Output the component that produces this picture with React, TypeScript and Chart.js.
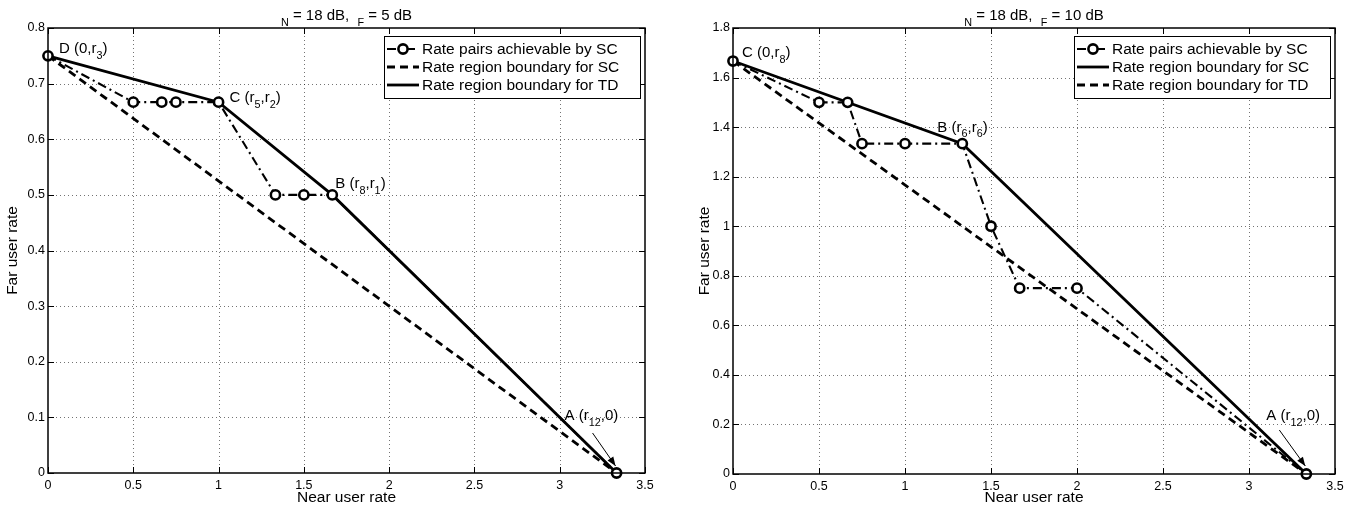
import React, { useEffect, useRef } from "react";
import { Chart, registerables } from "chart.js";
Chart.register(...registerables);

// ---------- DATA ----------
const xTicksMax = 3.5;
const xStep = 0.5;

// Left panel (γN = 18 dB, γF = 5 dB)
const leftAchX = [0, 0.5, 0.6667, 0.75, 1, 1.3333, 1.5, 1.6667, 3.3333];
const leftAchY = [0.75, 0.6667, 0.6667, 0.6667, 0.6667, 0.5, 0.5, 0.5, 0];
const leftSCBoundX = [0, 3.3333];
const leftSCBoundY = [0.75, 0];
const leftTDX = [0, 1, 1.6667, 3.3333];
const leftTDY = [0.75, 0.6667, 0.5, 0];
const leftYMax = 0.8;
const leftYStep = 0.1;

// Right panel (γN = 18 dB, γF = 10 dB)
const rightAchX = [0, 0.5, 0.6667, 0.75, 1, 1.3333, 1.5, 1.6667, 2, 3.3333];
const rightAchY = [1.6667, 1.5, 1.5, 1.3333, 1.3333, 1.3333, 1.0, 0.75, 0.75, 0];
const rightSCBoundX = [0, 1.3333, 3.3333];
const rightSCBoundY = [1.6667, 1.3333, 0];
const rightTDX = [0, 3.3333];
const rightTDY = [1.6667, 0];
const rightYMax = 1.8;
const rightYStep = 0.2;

const legendAch = "Rate pairs achievable by SC";
const legendSC = "Rate region boundary for SC";
const legendTD = "Rate region boundary for TD";
const xTitle = "Near user rate";
const yTitle = "Far user rate";

// ---------- STYLE ----------
const FONT = '"Liberation Sans", Arial, Helvetica, sans-serif';
const H = 511;
const TICK_FONT = 12.5;
const TITLE_FONT = 15;
const AXIS_FONT = 15.5;
const LEG_FONT = 15.5;
const ANN_FONT = 15;

type Seg = { t: string; sub?: boolean };
type Kind = "ach" | "dash" | "solid";

const styleFor = (kind: Kind) => {
  if (kind === "ach")
    return {
      borderColor: "#000",
      borderWidth: 2.1,
      borderDash: [9, 4, 2, 4],
      pointRadius: 4.6,
      pointBorderWidth: 2.6,
      pointBackgroundColor: "#fff",
      pointBorderColor: "#000",
    };
  if (kind === "dash")
    return { borderColor: "#000", borderWidth: 2.8, borderDash: [8, 5], pointRadius: 0 };
  return { borderColor: "#000", borderWidth: 2.8, borderDash: [], pointRadius: 0 };
};

const toPts = (xs: number[], ys: number[]) => xs.map((x, i) => ({ x, y: ys[i] }));

function drawRich(ctx: CanvasRenderingContext2D, segs: Seg[], x: number, y: number, size: number, align: "left" | "center") {
  const sub = size * 0.72;
  let w = 0;
  for (const s of segs) {
    ctx.font = `${s.sub ? sub : size}px ${FONT}`;
    w += ctx.measureText(s.t).width;
  }
  let cx = align === "center" ? x - w / 2 : x;
  ctx.textAlign = "left";
  ctx.textBaseline = "alphabetic";
  for (const s of segs) {
    ctx.font = `${s.sub ? sub : size}px ${FONT}`;
    ctx.fillText(s.t, cx, s.sub ? y + size * 0.38 : y);
    cx += ctx.measureText(s.t).width;
  }
}

function sample(ctx: CanvasRenderingContext2D, kind: Kind, x0: number, x1: number, y: number) {
  const st: any = styleFor(kind);
  ctx.save();
  ctx.strokeStyle = "#000";
  ctx.lineWidth = st.borderWidth;
  ctx.setLineDash(st.borderDash);
  ctx.beginPath();
  ctx.moveTo(x0, y);
  ctx.lineTo(x1, y);
  ctx.stroke();
  ctx.setLineDash([]);
  if (kind === "ach") {
    ctx.beginPath();
    ctx.arc((x0 + x1) / 2, y, st.pointRadius, 0, Math.PI * 2);
    ctx.fillStyle = "#fff";
    ctx.fill();
    ctx.lineWidth = st.pointBorderWidth;
    ctx.stroke();
  }
  ctx.restore();
}

type Ann = { x: number; y: number; dx: number; dy: number; segs: Seg[] };
type Arrow = { x: number; y: number; sx: number; sy: number; ex: number; ey: number };

type Spec = {
  width: number;
  area: { left: number; right: number; top: number; bottom: number };
  yMax: number;
  yStep: number;
  series: { kind: Kind; xs: number[]; ys: number[] }[];
  legend: { kind: Kind; label: string }[];
  title: Seg[];
  anns: Ann[];
  arrows: Arrow[];
  yTitleX: number;
};

function buildConfig(spec: Spec): any {
  const fmt = (v: any) => String(Math.round(Number(v) * 100) / 100);
  const decor = {
    id: "decor",
    beforeDatasetsDraw(chart: any) {
      const ctx = chart.ctx as CanvasRenderingContext2D;
      const a = chart.chartArea;
      const xs = chart.scales.x;
      const ys = chart.scales.y;
      ctx.save();
      ctx.strokeStyle = "rgba(0,0,0,0.55)";
      ctx.lineWidth = 1;
      ctx.setLineDash([1, 3]);
      for (const t of xs.ticks) {
        if (t.value <= xs.min || t.value >= xs.max) continue;
        const p = Math.round(xs.getPixelForValue(t.value)) + 0.5;
        ctx.beginPath();
        ctx.moveTo(p, a.top);
        ctx.lineTo(p, a.bottom);
        ctx.stroke();
      }
      for (const t of ys.ticks) {
        if (t.value <= ys.min || t.value >= ys.max) continue;
        const p = Math.round(ys.getPixelForValue(t.value)) + 0.5;
        ctx.beginPath();
        ctx.moveTo(a.left, p);
        ctx.lineTo(a.right, p);
        ctx.stroke();
      }
      ctx.restore();
    },
    afterDraw(chart: any) {
      const ctx = chart.ctx as CanvasRenderingContext2D;
      const a = chart.chartArea;
      const xs = chart.scales.x;
      const ys = chart.scales.y;
      ctx.save();
      // box
      ctx.strokeStyle = "#000";
      ctx.lineWidth = 1.5;
      ctx.setLineDash([]);
      ctx.strokeRect(a.left, a.top, a.right - a.left, a.bottom - a.top);
      // inward ticks
      ctx.lineWidth = 1;
      const TL = 6;
      ctx.beginPath();
      for (const t of xs.ticks) {
        const p = Math.round(xs.getPixelForValue(t.value)) + 0.5;
        ctx.moveTo(p, a.bottom);
        ctx.lineTo(p, a.bottom - TL);
        ctx.moveTo(p, a.top);
        ctx.lineTo(p, a.top + TL);
      }
      for (const t of ys.ticks) {
        const p = Math.round(ys.getPixelForValue(t.value)) + 0.5;
        ctx.moveTo(a.left, p);
        ctx.lineTo(a.left + TL, p);
        ctx.moveTo(a.right, p);
        ctx.lineTo(a.right - TL, p);
      }
      ctx.stroke();

      // title
      ctx.fillStyle = "#000";
      drawRich(ctx, spec.title, (a.left + a.right) / 2, 20, TITLE_FONT, "center");

      // axis titles
      ctx.font = `${AXIS_FONT}px ${FONT}`;
      ctx.textAlign = "center";
      ctx.textBaseline = "alphabetic";
      ctx.fillText(xTitle, (a.left + a.right) / 2, 502);
      ctx.save();
      ctx.translate(spec.yTitleX, (a.top + a.bottom) / 2);
      ctx.rotate(-Math.PI / 2);
      ctx.textBaseline = "middle";
      ctx.fillText(yTitle, 0, 0);
      ctx.restore();

      // annotations
      for (const an of spec.anns) {
        const px = xs.getPixelForValue(an.x);
        const py = ys.getPixelForValue(an.y);
        drawRich(ctx, an.segs, px + an.dx, py + an.dy, ANN_FONT, "left");
      }
      // arrows
      for (const ar of spec.arrows) {
        const px = xs.getPixelForValue(ar.x);
        const py = ys.getPixelForValue(ar.y);
        const x0 = px + ar.sx, y0 = py + ar.sy, x1 = px + ar.ex, y1 = py + ar.ey;
        ctx.strokeStyle = "#000";
        ctx.lineWidth = 1;
        ctx.beginPath();
        ctx.moveTo(x0, y0);
        ctx.lineTo(x1, y1);
        ctx.stroke();
        const ang = Math.atan2(y1 - y0, x1 - x0);
        const hl = 9, hw = 3.5;
        ctx.beginPath();
        ctx.moveTo(x1, y1);
        ctx.lineTo(x1 - hl * Math.cos(ang) + hw * Math.sin(ang), y1 - hl * Math.sin(ang) - hw * Math.cos(ang));
        ctx.lineTo(x1 - hl * Math.cos(ang) - hw * Math.sin(ang), y1 - hl * Math.sin(ang) + hw * Math.cos(ang));
        ctx.closePath();
        ctx.fillStyle = "#000";
        ctx.fill();
      }

      // legend
      const bw = 256, rowH = 18;
      const bx = a.right - 5 - bw;
      const by = a.top + 8;
      const bh = rowH * spec.legend.length + 8;
      ctx.fillStyle = "#fff";
      ctx.fillRect(bx, by, bw, bh);
      ctx.strokeStyle = "#000";
      ctx.lineWidth = 1;
      ctx.strokeRect(Math.round(bx) + 0.5, Math.round(by) + 0.5, bw, bh);
      spec.legend.forEach((r, i) => {
        const y = by + 13 + i * rowH;
        sample(ctx, r.kind, bx + 3, bx + 35, y);
        ctx.fillStyle = "#000";
        ctx.font = `${LEG_FONT}px ${FONT}`;
        ctx.textAlign = "left";
        ctx.textBaseline = "middle";
        ctx.fillText(r.label, bx + 38, y + 1);
      });
      ctx.restore();
    },
  };

  return {
    type: "scatter",
    data: {
      datasets: spec.series.map((s) => ({
        data: toPts(s.xs, s.ys),
        showLine: true,
        tension: 0,
        clip: false,
        ...styleFor(s.kind),
      })),
    },
    options: {
      responsive: false,
      animation: false,
      devicePixelRatio: 1,
      events: [],
      layout: { padding: { left: 0, top: spec.area.top, right: spec.width - spec.area.right, bottom: 0 } },
      plugins: { legend: { display: false }, title: { display: false }, tooltip: { enabled: false } },
      scales: {
        x: {
          type: "linear",
          min: 0,
          max: xTicksMax,
          ticks: { stepSize: xStep, color: "#000", font: { family: FONT, size: TICK_FONT }, padding: 5, maxRotation: 0, autoSkip: false, callback: fmt },
          grid: { display: false, drawTicks: false },
          border: { display: false },
          afterFit: (s: any) => {
            s.height = H - spec.area.bottom;
          },
        },
        y: {
          type: "linear",
          min: 0,
          max: spec.yMax,
          ticks: { stepSize: spec.yStep, color: "#000", font: { family: FONT, size: TICK_FONT }, padding: 3, autoSkip: false, callback: fmt },
          grid: { display: false, drawTicks: false },
          border: { display: false },
          afterFit: (s: any) => {
            s.width = spec.area.left;
          },
        },
      },
    },
    plugins: [decor],
  };
}

const LW = 680;
const RW = 1353 - LW;

const leftSpec: Spec = {
  width: LW,
  area: { left: 48, right: 645, top: 28, bottom: 473 },
  yMax: leftYMax,
  yStep: leftYStep,
  series: [
    { kind: "ach", xs: leftAchX, ys: leftAchY },
    { kind: "dash", xs: leftSCBoundX, ys: leftSCBoundY },
    { kind: "solid", xs: leftTDX, ys: leftTDY },
  ],
  legend: [
    { kind: "ach", label: legendAch },
    { kind: "dash", label: legendSC },
    { kind: "solid", label: legendTD },
  ],
  title: [{ t: "N", sub: true }, { t: " = 18 dB,  " }, { t: "F", sub: true }, { t: " = 5 dB" }],
  anns: [
    { x: leftTDX[0], y: leftTDY[0], dx: 11, dy: -3, segs: [{ t: "D (0,r" }, { t: "3", sub: true }, { t: ")" }] },
    { x: leftTDX[1], y: leftTDY[1], dx: 11, dy: 0, segs: [{ t: "C (r" }, { t: "5", sub: true }, { t: ",r" }, { t: "2", sub: true }, { t: ")" }] },
    { x: leftTDX[2], y: leftTDY[2], dx: 3, dy: -7, segs: [{ t: "B (r" }, { t: "8", sub: true }, { t: ",r" }, { t: "1", sub: true }, { t: ")" }] },
    { x: leftTDX[3], y: leftTDY[3], dx: -52, dy: -53, segs: [{ t: "A (r" }, { t: "12", sub: true }, { t: ",0)" }] },
  ],
  arrows: [{ x: leftTDX[3], y: leftTDY[3], sx: -24, sy: -40, ex: -1, ey: -7 }],
  yTitleX: 13,
};

const rightSpec: Spec = {
  width: RW,
  area: { left: 733 - LW, right: 1335 - LW, top: 28, bottom: 474 },
  yMax: rightYMax,
  yStep: rightYStep,
  series: [
    { kind: "ach", xs: rightAchX, ys: rightAchY },
    { kind: "solid", xs: rightSCBoundX, ys: rightSCBoundY },
    { kind: "dash", xs: rightTDX, ys: rightTDY },
  ],
  legend: [
    { kind: "ach", label: legendAch },
    { kind: "solid", label: legendSC },
    { kind: "dash", label: legendTD },
  ],
  title: [{ t: "N", sub: true }, { t: " = 18 dB,  " }, { t: "F", sub: true }, { t: " = 10 dB" }],
  anns: [
    { x: rightSCBoundX[0], y: rightSCBoundY[0], dx: 9, dy: -4, segs: [{ t: "C (0,r" }, { t: "8", sub: true }, { t: ")" }] },
    { x: rightSCBoundX[1], y: rightSCBoundY[1], dx: -25, dy: -12, segs: [{ t: "B (r" }, { t: "6", sub: true }, { t: ",r" }, { t: "6", sub: true }, { t: ")" }] },
    { x: rightSCBoundX[2], y: rightSCBoundY[2], dx: -40, dy: -54, segs: [{ t: "A (r" }, { t: "12", sub: true }, { t: ",0)" }] },
  ],
  arrows: [{ x: rightSCBoundX[2], y: rightSCBoundY[2], sx: -27, sy: -44, ex: -1, ey: -8 }],
  yTitleX: 705 - LW,
};

function Panel({ spec, left }: { spec: Spec; left: number }) {
  const ref = useRef<HTMLCanvasElement>(null);
  useEffect(() => {
    const chart = new Chart(ref.current as HTMLCanvasElement, buildConfig(spec));
    return () => chart.destroy();
  }, [spec]);
  return (
    <div style={{ position: "absolute", left, top: 0, width: spec.width, height: H }}>
      <canvas ref={ref} width={spec.width} height={H} style={{ width: spec.width, height: H, display: "block" }} />
    </div>
  );
}

export default function App() {
  return (
    <div style={{ position: "absolute", left: 0, top: 0, width: 1353, height: H, background: "#fff" }}>
      <Panel spec={leftSpec} left={0} />
      <Panel spec={rightSpec} left={LW} />
    </div>
  );
}
